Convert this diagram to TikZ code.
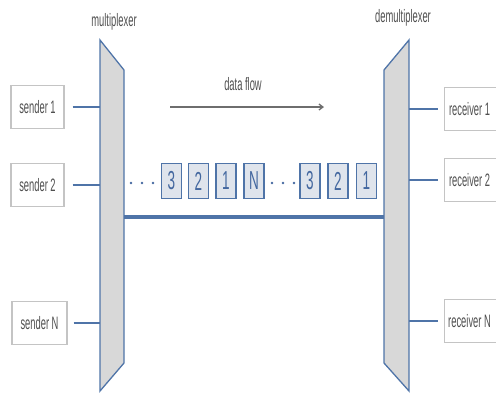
\documentclass[tikz,border=0pt]{standalone}
\usepackage{fontspec}
\setmainfont{Liberation Sans}[FakeStretch=0.52]
\usetikzlibrary{arrows.meta}
\definecolor{lineblue}{HTML}{4F74A8}
\definecolor{muxfill}{HTML}{D8D8D8}
\definecolor{pkfill}{HTML}{DFE4EC}
\definecolor{txtgray}{HTML}{505050}
\definecolor{boxgray}{HTML}{C4C4C4}
\definecolor{pktxt}{HTML}{4468A0}
\definecolor{flowgray}{HTML}{6E6E6E}
\tikzset{
  endbox/.style={draw=boxgray, line width=1.1pt, fill=white, minimum width=53pt, minimum height=43pt,
    inner sep=0pt, text=txtgray, font=\fontsize{18}{18}\selectfont},
  rcvbox/.style={endbox, minimum width=64pt, anchor=west},
  lbl/.style={text=txtgray, inner sep=0pt, font=\fontsize{18}{18}\selectfont},
  conn/.style={draw=lineblue, line width=2pt},
  bus/.style={draw=lineblue, line width=3.2pt},
  muxshape/.style={draw=lineblue, line width=1.3pt, fill=muxfill, line join=miter},
  pkt/.style={draw=lineblue, line width=1.2pt, fill=pkfill, minimum width=20pt, minimum height=35pt,
    inner sep=0pt, text=pktxt, font=\fontsize{26}{26}\selectfont},
  flow/.style={draw=flowgray, line width=1.3pt, -{Straight Barb[length=4pt,width=6pt]}},
  dotmark/.style={fill=pktxt}
}
\begin{document}
\begin{tikzpicture}[x=1pt,y=-1pt]
\useasboundingbox (0,0) rectangle (496,392);
\clip (0,0) rectangle (496,392);

% multiplexer / demultiplexer
\draw[muxshape] (100,40) -- (124,70) -- (124,363) -- (100,391) -- cycle;
\draw[muxshape] (384,70) -- (409,40) -- (409,391) -- (384,363) -- cycle;
\coordinate (muxW) at (100,200);
\coordinate (muxE) at (124,200);
\coordinate (dmxW) at (384,200);
\coordinate (dmxE) at (409,200);

\node[lbl] (mlbl) at (114,22) {multiplexer};
\node[lbl] (dlbl) at (403,18) {demultiplexer};

% senders
\node[endbox] (s1) at (37.5,107) {sender 1};
\node[endbox] (s2) at (37.5,185) {sender 2};
\node[endbox, minimum width=55pt] (sN) at (39.5,323) {sender N};

% receivers
\node[rcvbox] (r1) at (444,109) {\hspace*{-14pt}receiver 1};
\node[rcvbox] (r2) at (444,180) {\hspace*{-14pt}receiver 2};
\node[rcvbox] (rN) at (444,321) {\hspace*{-14pt}receiver N};

% connectors
\draw[conn, shorten <=8pt] (s1.east) -- (s1.east -| muxW);
\draw[conn, shorten <=8pt] (s2.east) -- (s2.east -| muxW);
\draw[conn, shorten <=6pt] (sN.east) -- (sN.east -| muxW);
\draw[conn, shorten >=6pt] (r1.west -| dmxE) -- (r1.west);
\draw[conn, shorten >=6pt] (r2.west -| dmxE) -- (r2.west);
\draw[conn, shorten >=6pt] (rN.west -| dmxE) -- (rN.west);

% bus
\coordinate (busL) at (124,217);
\coordinate (busR) at (384,217);
\draw[bus] (busL) -- (busR);

% data flow
\node[lbl] (df) at (243,84) {data flow};
\coordinate (fa) at (170,107);
\coordinate (fb) at (324,107);
\draw[flow] (fa) -- (fb);

% packets
\node[pkt] (p1) at (171.5,181) {3};
\node[pkt] (p2) at (198.5,181) {2};
\node[pkt] (p3) at (226,181) {1};
\node[pkt] (p4) at (254,181) {N};
\node[pkt] (p5) at (310,181) {3};
\node[pkt] (p6) at (338,181) {2};
\node[pkt] (p7) at (366.5,181) {1};

% dots
\foreach \x in {131,142,153,272,283,294}
  \fill[dotmark] (\x,183) circle (1.4pt);
\end{tikzpicture}
\end{document}
